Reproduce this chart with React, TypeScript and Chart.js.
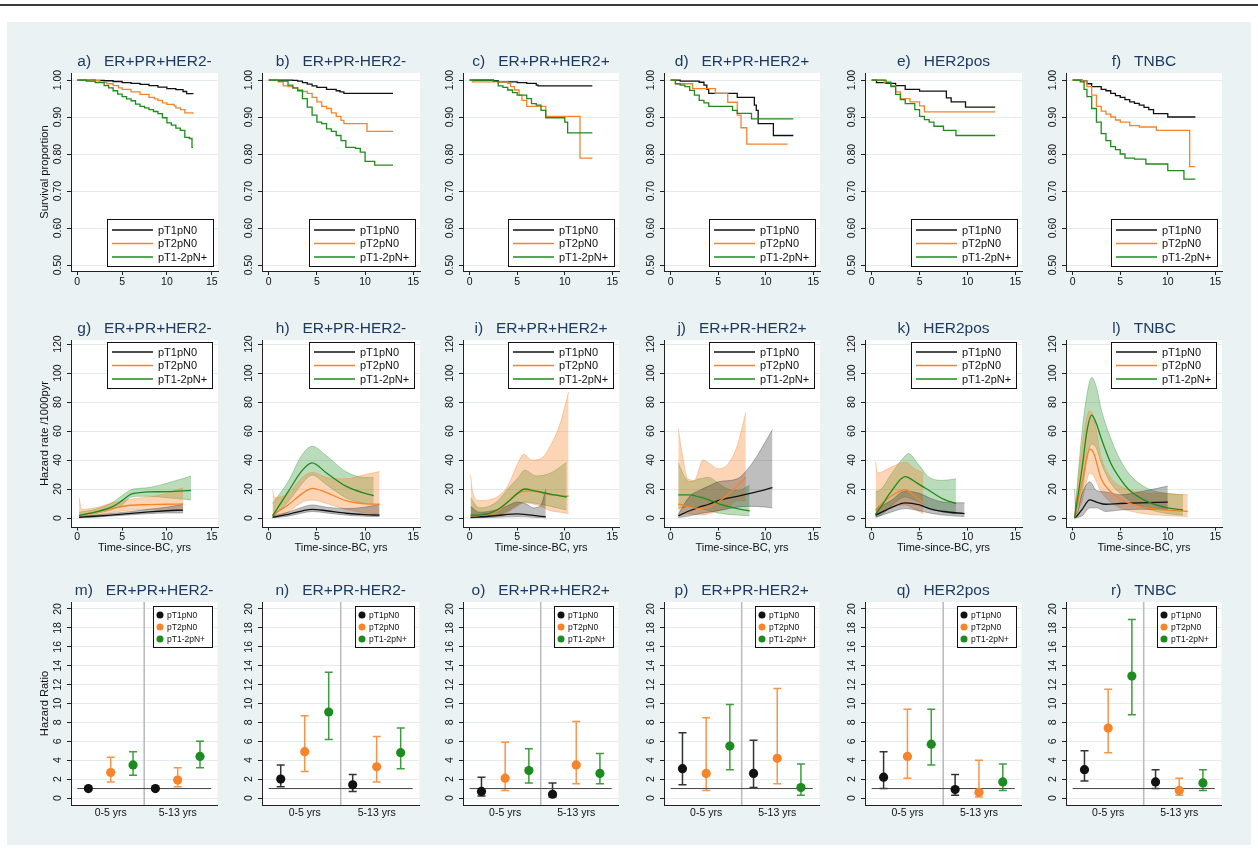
import React, { useEffect, useRef } from 'react';
import { Chart, registerables } from 'chart.js';

Chart.register(...registerables);

const FONT = "'Liberation Sans', Arial, Helvetica, sans-serif";
const INK = '#111111';
const TITLE_INK = '#1F3A62';
const BG = '#EAF2F3';
const GRID = '#E3EBED';

const SERIES = ['pT1pN0', 'pT2pN0', 'pT1-2pN+'];
const LINE_COLORS = ['#111111', '#F5842B', '#1D8B1D'];
const BAND_FILL = ['rgba(40,40,40,0.30)', 'rgba(245,132,43,0.34)', 'rgba(29,139,29,0.30)'];
const BAND_EDGE = ['rgba(40,40,40,0.45)', 'rgba(245,132,43,0.5)', 'rgba(29,139,29,0.45)'];

const SUBTYPES = ['ER+PR+HER2-', 'ER+PR-HER2-', 'ER+PR+HER2+', 'ER+PR-HER2+', 'HER2pos', 'TNBC'];
const KM_LETTERS = ['a', 'b', 'c', 'd', 'e', 'f'];
const HZ_LETTERS = ['g', 'h', 'i', 'j', 'k', 'l'];
const HR_LETTERS = ['m', 'n', 'o', 'p', 'q', 'r'];

const TIME_TICKS = [0, 5, 10, 15];
const KM_Y_TICKS = [0.5, 0.6, 0.7, 0.8, 0.9, 1.0];
const HZ_Y_TICKS = [0, 20, 40, 60, 80, 100, 120];
const HR_Y_TICKS = [0, 2, 4, 6, 8, 10, 12, 14, 16, 18, 20];
const HR_PERIODS = ['0-5 yrs', '5-13 yrs'];
const HR_PERIOD_POS = [2, 5];
const HR_POS = [[1, 4], [2, 5], [3, 6]];
const HR_DIVIDER = 3.5;
const HR_REF = [[0.5, 1], [6.5, 1]];

// ---------- Kaplan-Meier survival [time, survival] ----------
const KM_A1 = [[0,1],[2,0.999],[3,0.998],[4,0.996],[5,0.993],[6,0.991],[7,0.988],[8,0.985],[9,0.981],[10,0.977],[11,0.974],[11.8,0.969],[12.2,0.963],[12.9,0.962]];
const KM_A2 = [[0,1],[1.5,0.998],[2.5,0.994],[3.3,0.99],[4,0.985],[4.6,0.979],[5,0.975],[6,0.968],[7,0.961],[8,0.953],[8.6,0.949],[9,0.945],[9.5,0.938],[10,0.934],[10.8,0.93],[11,0.925],[11.5,0.92],[12,0.911],[12.9,0.909]];
const KM_A3 = [[0,1],[1,0.997],[2,0.993],[3,0.985],[3.5,0.979],[4,0.971],[4.5,0.962],[5,0.955],[5.5,0.949],[6,0.944],[6.5,0.935],[7,0.929],[7.5,0.925],[8,0.92],[8.5,0.915],[9,0.909],[9.5,0.898],[10,0.884],[10.5,0.878],[11,0.87],[11.5,0.864],[12,0.845],[12.5,0.842],[12.8,0.818],[12.9,0.818]];

const KM_B1 = [[0,1],[2.5,0.999],[3,0.997],[3.5,0.993],[4,0.989],[4.5,0.984],[5,0.98],[6,0.975],[7,0.971],[7.4,0.968],[7.8,0.964],[12.9,0.964]];
const KM_B2 = [[0,1],[1,0.995],[1.5,0.984],[2,0.982],[2.5,0.978],[3,0.973],[3.5,0.969],[4,0.964],[4.5,0.953],[5,0.941],[5.5,0.929],[6,0.923],[6.5,0.911],[7,0.902],[7.5,0.891],[7.8,0.882],[10.2,0.861],[12.9,0.861]];
const KM_B3 = [[0,1],[1,0.997],[2,0.986],[2.5,0.979],[3,0.971],[3.5,0.95],[4,0.927],[4.5,0.905],[5,0.886],[5.5,0.882],[6,0.868],[6.5,0.861],[7,0.85],[7.5,0.836],[8,0.818],[9,0.815],[9.5,0.805],[10,0.78],[11,0.77],[12.9,0.77]];

const KM_C1 = [[0,1],[2.5,0.998],[3,0.995],[5,0.993],[6,0.991],[7,0.986],[7.2,0.984],[12.9,0.984]];
const KM_C2 = [[0,1],[0.3,0.995],[4,0.991],[4.3,0.982],[4.7,0.973],[5.2,0.959],[5.5,0.945],[6,0.929],[8,0.902],[11.6,0.789],[12.9,0.789]];
const KM_C3 = [[0,1],[2.5,0.997],[3,0.984],[3.5,0.98],[4,0.973],[4.5,0.966],[5,0.959],[6,0.95],[6.5,0.936],[7,0.932],[7.5,0.918],[8,0.898],[10,0.886],[10.3,0.857],[12.9,0.857]];

const KM_D1 = [[0,1],[1,0.997],[3,0.994],[3.5,0.986],[3.8,0.975],[4,0.964],[7,0.953],[8.8,0.932],[9,0.918],[9.2,0.882],[10.8,0.85],[12.9,0.85]];
const KM_D2 = [[0,1],[0.5,0.99],[2.3,0.977],[4.7,0.964],[6,0.94],[7,0.905],[7.4,0.871],[8,0.827],[12.3,0.827]];
const KM_D3 = [[0,1],[0.5,0.99],[1,0.986],[1.5,0.982],[2,0.972],[2.5,0.959],[3,0.945],[3.5,0.938],[4,0.929],[6.5,0.918],[7,0.91],[8.5,0.895],[12.9,0.895]];

const KM_E1 = [[0,1],[0.5,0.993],[1.5,0.991],[2.5,0.985],[3.5,0.975],[5,0.97],[7.8,0.952],[8.3,0.941],[9.8,0.927],[12.9,0.927]];
const KM_E2 = [[0,1],[1.3,0.993],[2,0.985],[2.5,0.968],[3,0.95],[4,0.941],[5,0.93],[5.5,0.914],[12.9,0.914]];
const KM_E3 = [[0,1],[1.5,0.994],[2,0.982],[2.5,0.961],[3,0.947],[3.5,0.936],[4.5,0.92],[5,0.902],[5.5,0.893],[6,0.886],[6.5,0.875],[7.5,0.864],[8.8,0.85],[12.9,0.85]];

const KM_F1 = [[0,1],[1,0.997],[1.5,0.99],[2,0.982],[3,0.975],[3.5,0.971],[4,0.964],[4.5,0.958],[5,0.953],[5.5,0.947],[6,0.941],[6.5,0.937],[7,0.932],[7.5,0.926],[8,0.92],[8.5,0.909],[10,0.9],[12.9,0.9]];
const KM_F2 = [[0,1],[1,0.996],[1.5,0.982],[2,0.959],[2.5,0.929],[3,0.916],[3.5,0.908],[4,0.9],[4.5,0.892],[5,0.886],[6,0.877],[7,0.873],[8.8,0.864],[12.3,0.766],[12.9,0.766]];
const KM_F3 = [[0,1],[0.8,0.995],[1.2,0.975],[1.5,0.955],[2,0.923],[2.5,0.886],[3,0.855],[3.5,0.836],[4,0.82],[4.5,0.812],[5,0.8],[5.5,0.789],[6.5,0.786],[7.7,0.773],[10,0.755],[11.7,0.732],[12.9,0.732]];

const KM_SETS = [
  [KM_A1, KM_A2, KM_A3], [KM_B1, KM_B2, KM_B3], [KM_C1, KM_C2, KM_C3],
  [KM_D1, KM_D2, KM_D3], [KM_E1, KM_E2, KM_E3], [KM_F1, KM_F2, KM_F3],
];

// ---------- Hazard rate /1000pyr [time, estimate, lower, upper] ----------
const HZ_G1 = [[0.2,0.5,0.2,1],[2,1.2,0.6,2],[4,2.2,1.4,3.3],[6,3.2,2.3,4.5],[8,4.2,3,6],[10,5,3.5,7.5],[11.8,5.5,3.5,9.5]];
const HZ_G2 = [[0.2,1.5,0.5,14],[0.5,2.2,0.8,6],[2,4,2,7],[4,6.7,4,10.5],[6,8.8,5.5,13],[8,9.2,6,14.5],[10,9.5,6,17],[11.8,9.7,5.5,21]];
const HZ_G3 = [[0.2,1.8,1,4],[2,4,3,6],[4,8,6,11],[5,12,9,15.5],[6,16.5,14.5,19.5],[7,17.5,15,20.5],[8,18,15,21],[10,18.2,14,24],[12.7,19,12.5,29]];

const HZ_H1 = [[0.4,0.5,0.2,1.5],[2,2.5,1.3,4],[3.5,5,3.5,7.5],[4.5,6,4.5,9],[6,5,3.5,7.5],[8,3.3,2,6.5],[10,2.3,1.2,7.5],[11.5,2,1,9.5]];
const HZ_H2 = [[0.4,2,0.2,19],[0.6,3,0.5,14],[2,9,4,17],[3.5,17,11,28],[4.5,20.5,12.5,31.5],[6,17.5,10,28],[8,12,6,27],[10,9.8,3.5,30],[11.5,9.5,2.5,32]];
const HZ_H3 = [[0.4,1.5,0.5,10],[2,18,11,25],[3.5,33,24,44],[4.5,38,29.5,49.5],[6,31,23,43],[8,22,14,32],[10,17,10,28],[10.9,15.5,9.5,28]];

const HZ_I1 = [[0.1,0.5,0,8],[1,0.8,0.2,4],[2,1.2,0.4,4.5],[3,1.8,0.6,6],[4,2.5,0.8,8.5],[5,2.8,1,11],[6,2.3,0.8,9.5],[6.7,1.8,0.5,7],[7.5,1.2,0.3,9],[8,0.8,0.2,20]];
const HZ_I2 = [[0.1,1.5,0.1,30],[0.3,1.5,0.2,18],[1,1.8,0.3,12],[2,2.5,0.5,12.5],[3,5,1,15],[4,11,4,22],[5,16.5,8,37],[5.7,18.5,10.5,44],[6.5,18.5,10,40],[7.5,17.5,8,41],[8.5,16,5,50],[9.5,15.5,4,65],[10.4,15,3,87]];
const HZ_I3 = [[0.1,2,0.2,14],[1,2.2,0.5,7],[2,3,1,8],[3,6,2,12],[4,11,5,20],[5,17,9,27],[5.8,20,11,33],[7,18.5,10,29],[8.5,16.5,8,31],[10.2,14.5,5.5,38.5]];

const HZ_J1 = [[0.8,1.5,0.3,2.5],[2,5,1.5,15],[3,7.5,3,19],[4,9.5,4,22],[5,12,5,25],[7,15,7.5,27],[8,16.5,8,33],[9,18,8,42],[10.7,21,7,61]];
const HZ_J2 = [[0.8,9.5,2,62],[1.2,9,2.5,45],[1.8,8,3,27],[2.5,7,2.5,26],[3.4,6.5,2,40],[4,7.5,3,38],[5,11,5,34],[6,16,7,37],[7,22,12,50],[7.9,28,12,73]];
const HZ_J3 = [[0.8,16,6.5,38],[1.5,16,7.5,28],[2,16,8,25],[3,14.5,7,27],[4,12.5,5,28],[5,10,3.5,24],[6,8,2.5,20],[7,6.5,2,19],[8.3,5,1.5,22.5]];

const HZ_K1 = [[0.4,2,0.5,6],[2,7,4,12],[3.5,10.5,6.5,18.5],[5,9,5,17],[6,6.5,3.5,14],[7.5,4.5,2,11],[9.7,3,1,10.5]];
const HZ_K2 = [[0.4,5.5,1,39],[0.6,7,2,31],[2,15,7,35],[3.5,19.5,9,38.5],[4.5,15,6,34],[5.4,10,3,31]];
const HZ_K3 = [[0.4,2.5,0.5,18],[1,8,2,20],[2,18,8,30],[3.5,28.5,14.5,43],[3.8,28,14,44.5],[5,23,11,36],[6,19,7,28],[7.5,13,4,26],[8.8,10,3,27]];

const HZ_L1 = [[0.2,0,0,20],[0.4,1,0.2,3],[1,6,1.5,17],[1.8,12.5,7,25],[2.5,11,7,19],[3.5,9.5,4.5,18],[5,10,5.5,16],[7,10.5,6,18],[10,11,6,22]];
const HZ_L2 = [[0.2,0,0,1],[1,25,12,50],[1.8,47.5,31,74],[2.2,45,29,70],[3,27,18,42],[4,18,11,28],[5,13,7,22],[7,8,3.5,18],[9,6,2,17],[12.1,4.5,1,16]];
const HZ_L3 = [[0.2,0,0,1],[1,35,18,60],[1.5,60,40,85],[2,71,51,97],[2.5,65,48,90],[3,55,38,75],[4,38,24,55],[5,27,17,40],[6,19,12,30],[8,11,6,20],[10,7,3,17],[11.6,5.5,2,16]];

const HZ_SETS = [
  [HZ_G1, HZ_G2, HZ_G3], [HZ_H1, HZ_H2, HZ_H3], [HZ_I1, HZ_I2, HZ_I3],
  [HZ_J1, HZ_J2, HZ_J3], [HZ_K1, HZ_K2, HZ_K3], [HZ_L1, HZ_L2, HZ_L3],
];

// ---------- Hazard ratios: per series [0-5 yrs, 5-13 yrs] ----------
const HR_M_EST = [[1, 1], [2.7, 1.9], [3.5, 4.4]];
const HR_M_LO = [[null, null], [1.7, 1.2], [2.4, 3.2]];
const HR_M_HI = [[null, null], [4.3, 3.2], [4.9, 6.0]];

const HR_N_EST = [[2.0, 1.4], [4.9, 3.3], [9.1, 4.8]];
const HR_N_LO = [[1.2, 0.7], [2.8, 1.7], [6.2, 3.1]];
const HR_N_HI = [[3.5, 2.5], [8.7, 6.5], [13.3, 7.4]];

const HR_O_EST = [[0.7, 0.4], [2.1, 3.5], [2.9, 2.6]];
const HR_O_LO = [[0.2, 0.1], [0.8, 1.5], [1.6, 1.5]];
const HR_O_HI = [[2.2, 1.6], [5.9, 8.1], [5.2, 4.7]];

const HR_P_EST = [[3.1, 2.6], [2.6, 4.2], [5.5, 1.1]];
const HR_P_LO = [[1.4, 1.1], [0.8, 1.5], [3.0, 0.3]];
const HR_P_HI = [[6.9, 6.1], [8.5, 11.6], [9.9, 3.6]];

const HR_Q_EST = [[2.2, 0.9], [4.4, 0.6], [5.7, 1.7]];
const HR_Q_LO = [[1.0, 0.3], [2.1, 0.1], [3.5, 0.8]];
const HR_Q_HI = [[4.9, 2.5], [9.4, 4.0], [9.4, 3.6]];

const HR_R_EST = [[3.0, 1.7], [7.4, 0.8], [12.9, 1.6]];
const HR_R_LO = [[1.8, 1.0], [4.8, 0.3], [8.8, 0.8]];
const HR_R_HI = [[5.0, 3.0], [11.5, 2.1], [18.9, 3.0]];

const HR_SETS = [
  [HR_M_EST, HR_M_LO, HR_M_HI], [HR_N_EST, HR_N_LO, HR_N_HI], [HR_O_EST, HR_O_LO, HR_O_HI],
  [HR_P_EST, HR_P_LO, HR_P_HI], [HR_Q_EST, HR_Q_LO, HR_Q_HI], [HR_R_EST, HR_R_LO, HR_R_HI],
];

const Y_TITLES = ['Survival proportion', 'Hazard rate /1000pyr', 'Hazard Ratio'];
const X_TITLE_HZ = 'Time-since-BC, yrs';

// ---------- layout (pixel frame of each plot region) ----------
const COL_L = [71, 262, 463, 664, 865, 1066];
const COL_R = [218, 420, 619, 820, 1022, 1222];
const ROW_T = [73, 340, 602];
const ROW_B = [271, 527, 805];

function xAxis(g: any, min: number, max: number, ticks: number[], fmt: (v: number) => string, drawTicks: boolean, tl: number, pad: number) {
  return {
    type: 'linear', position: 'bottom', min, max,
    afterBuildTicks: (s: any) => { s.ticks = ticks.map((v) => ({ value: v })); },
    afterFit: (s: any) => { s.height = g.B; s.paddingLeft = 0; s.paddingRight = 0; },
    grid: { drawOnChartArea: false, drawTicks, tickLength: tl, tickColor: '#222', tickWidth: 1 },
    border: { display: true, color: '#222', width: 1 },
    ticks: {
      display: true, autoSkip: false, maxRotation: 0, minRotation: 0, padding: pad,
      color: INK, font: { family: FONT, size: 10.5 },
      callback: (v: any) => fmt(Number(v)),
    },
  };
}

function yAxis(min: number, max: number, ticks: number[]) {
  return {
    type: 'linear', position: 'left', min, max,
    afterBuildTicks: (s: any) => { s.ticks = ticks.map((v) => ({ value: v })); },
    afterFit: (s: any) => { s.width = 0; s.paddingTop = 0; s.paddingBottom = 0; },
    grid: { drawOnChartArea: true, color: GRID, lineWidth: 1, drawTicks: true, tickLength: 4, tickColor: '#222', tickWidth: 1 },
    border: { display: true, color: '#222', width: 1 },
    ticks: { display: false },
  };
}

function drawLegend(ctx: CanvasRenderingContext2D, a: any, kind: string) {
  let bw, bh, bx, by, rows, fs;
  if (kind === 'km') { bw = 107; bh = 48; bx = a.right - 4.5 - bw; by = a.bottom - 4 - bh; rows = [11, 24.5, 38]; fs = 11; }
  else if (kind === 'hz') { bw = 106; bh = 47; bx = a.right - 5 - bw; by = a.top + 2; rows = [10, 23.5, 37]; fs = 11; }
  else { bw = 60; bh = 42; bx = a.right - 4 - bw; by = a.top + 4; rows = [9, 21, 33]; fs = 8.5; }
  bx = Math.round(bx); by = Math.round(by);
  ctx.save();
  ctx.fillStyle = '#ffffff';
  ctx.fillRect(bx, by, bw, bh);
  ctx.strokeStyle = '#111';
  ctx.lineWidth = 1;
  ctx.strokeRect(bx + 0.5, by + 0.5, bw - 1, bh - 1);
  ctx.font = `${fs}px ${FONT}`;
  ctx.textBaseline = 'middle';
  ctx.textAlign = 'left';
  SERIES.forEach((name, i) => {
    const y = by + rows[i];
    if (kind === 'hr') {
      ctx.fillStyle = LINE_COLORS[i];
      ctx.beginPath(); ctx.arc(bx + 7, y, 3.5, 0, Math.PI * 2); ctx.fill();
      ctx.fillStyle = INK;
      ctx.fillText(name, bx + 14, y + 0.5);
    } else {
      ctx.strokeStyle = LINE_COLORS[i];
      ctx.lineWidth = 1.3;
      ctx.beginPath(); ctx.moveTo(bx + 5, y); ctx.lineTo(bx + 46, y); ctx.stroke();
      ctx.fillStyle = INK;
      ctx.fillText(name, bx + 51, y + 0.5);
    }
  });
  ctx.restore();
}

function decor(o: any) {
  return {
    id: 'decor',
    beforeDraw(chart: any) {
      const { ctx, chartArea: a } = chart;
      ctx.save();
      ctx.fillStyle = '#ffffff';
      ctx.fillRect(a.left, a.top, a.right - a.left, a.bottom - a.top);
      ctx.restore();
    },
    beforeDatasetsDraw(chart: any) {
      if (!o.hr) return;
      const { ctx, chartArea: a, scales } = chart;
      const x = scales.x, y = scales.y;
      ctx.save();
      const dx = x.getPixelForValue(HR_DIVIDER);
      ctx.strokeStyle = '#B9BDBF';
      ctx.lineWidth = 1.6;
      ctx.beginPath(); ctx.moveTo(dx, a.top); ctx.lineTo(dx, a.bottom); ctx.stroke();
      const [, lo, hi] = o.hr;
      for (let s = 0; s < 3; s++) {
        for (let k = 0; k < 2; k++) {
          const l = lo[s][k], h = hi[s][k];
          if (l == null || h == null) continue;
          const px = x.getPixelForValue(HR_POS[s][k]);
          const p1 = y.getPixelForValue(l), p2 = y.getPixelForValue(h);
          ctx.strokeStyle = LINE_COLORS[s];
          ctx.globalAlpha = 0.85;
          ctx.lineWidth = 1.5;
          ctx.beginPath();
          ctx.moveTo(px, p1); ctx.lineTo(px, p2);
          ctx.moveTo(px - 4, p1); ctx.lineTo(px + 4, p1);
          ctx.moveTo(px - 4, p2); ctx.lineTo(px + 4, p2);
          ctx.stroke();
        }
      }
      ctx.restore();
    },
    afterDraw(chart: any) {
      const { ctx, chartArea: a, scales } = chart;
      const ys = scales.y;
      ctx.save();
      // title
      ctx.fillStyle = TITLE_INK;
      ctx.font = `15.5px ${FONT}`;
      ctx.textAlign = 'center';
      ctx.textBaseline = 'middle';
      ctx.fillText(o.title, (a.left + a.right) / 2, a.top - 11);
      // y tick labels (rotated)
      ctx.fillStyle = INK;
      ctx.font = `10.5px ${FONT}`;
      for (const t of ys.ticks) {
        const py = ys.getPixelForValue(t.value);
        ctx.save();
        ctx.translate(a.left - 12.5, py);
        ctx.rotate(-Math.PI / 2);
        ctx.fillText(o.yFmt(t.value), 0, 0);
        ctx.restore();
      }
      // y title
      if (o.yTitle) {
        ctx.font = `11.2px ${FONT}`;
        ctx.save();
        ctx.translate(a.left - 26, (a.top + a.bottom) / 2);
        ctx.rotate(-Math.PI / 2);
        ctx.fillText(o.yTitle, 0, 0);
        ctx.restore();
      }
      // x title
      if (o.xTitle) {
        ctx.font = `11px ${FONT}`;
        ctx.fillText(o.xTitle, (a.left + a.right) / 2, a.bottom + 21);
      }
      ctx.restore();
      drawLegend(ctx, a, o.legend);
    },
  };
}

const pts = (rows: number[][], j: number) => rows.map((r) => ({ x: r[0], y: r[j] }));

function buildConfig(row: number, col: number, g: any) {
  const common: any = {
    animation: false,
    responsive: false,
    events: [],
    layout: { padding: { left: g.L, right: g.R, top: g.T, bottom: 0 } },
    plugins: { legend: { display: false }, tooltip: { enabled: false }, title: { display: false } },
  };
  if (row === 0) {
    const sets = KM_SETS[col];
    return {
      type: 'line',
      data: {
        datasets: sets.map((s, i) => ({
          data: s.map((p) => ({ x: p[0], y: p[1] })),
          stepped: true,
          borderColor: LINE_COLORS[i],
          borderWidth: 1.3,
          pointRadius: 0,
          fill: false,
          order: 2 - i,
        })),
      },
      options: {
        ...common,
        scales: {
          x: xAxis(g, -0.7, 15.7, TIME_TICKS, (v) => String(v), true, 4, 0.5),
          y: yAxis(0.4838, 1.019, KM_Y_TICKS),
        },
      },
      plugins: [decor({ title: `${KM_LETTERS[col]})   ${SUBTYPES[col]}`, yFmt: (v: number) => v.toFixed(2), yTitle: col === 0 ? Y_TITLES[0] : null, legend: 'km' })],
    };
  }
  if (row === 1) {
    const sets = HZ_SETS[col];
    const datasets: any[] = [];
    sets.forEach((s, i) => {
      datasets.push({ data: pts(s, 2), borderColor: BAND_EDGE[i], borderWidth: 0.7, pointRadius: 0, fill: false, tension: 0.4, cubicInterpolationMode: 'monotone', order: 5 });
      datasets.push({ data: pts(s, 3), borderColor: BAND_EDGE[i], backgroundColor: BAND_FILL[i], borderWidth: 0.7, pointRadius: 0, fill: '-1', tension: 0.4, cubicInterpolationMode: 'monotone', order: 5 });
    });
    sets.forEach((s, i) => {
      datasets.push({ data: pts(s, 1), borderColor: LINE_COLORS[i], borderWidth: 1.3, pointRadius: 0, fill: false, tension: 0.4, cubicInterpolationMode: 'monotone', order: 2 - i });
    });
    return {
      type: 'line',
      data: { datasets },
      options: {
        ...common,
        scales: {
          x: xAxis(g, -0.7, 15.7, TIME_TICKS, (v) => String(v), true, 3.5, 0),
          y: yAxis(-6.2, 122.8, HZ_Y_TICKS),
        },
      },
      plugins: [decor({ title: `${HZ_LETTERS[col]})   ${SUBTYPES[col]}`, yFmt: (v: number) => String(v), yTitle: col === 0 ? Y_TITLES[1] : null, xTitle: X_TITLE_HZ, legend: 'hz' })],
    };
  }
  const hr = HR_SETS[col];
  const est = hr[0];
  const datasets: any[] = [
    { type: 'line', data: HR_REF.map((p) => ({ x: p[0], y: p[1] })), showLine: true, borderColor: '#444', borderWidth: 1, pointRadius: 0, fill: false, order: 5 },
  ];
  est.forEach((vals: number[], s: number) => {
    datasets.push({
      data: vals.map((v, k) => ({ x: HR_POS[s][k], y: v })),
      showLine: false,
      pointRadius: 4.6,
      pointBackgroundColor: LINE_COLORS[s],
      pointBorderWidth: 0,
      borderColor: LINE_COLORS[s],
      order: 1,
    });
  });
  return {
    type: 'scatter',
    data: { datasets },
    options: {
      ...common,
      scales: {
        x: xAxis(g, 0.22, 6.78, HR_PERIOD_POS, (v) => HR_PERIODS[HR_PERIOD_POS.indexOf(v)] || '', false, 0, 1.5),
        y: yAxis(-0.74, 20.74, HR_Y_TICKS),
      },
    },
    plugins: [decor({ title: `${HR_LETTERS[col]})   ${SUBTYPES[col]}`, yFmt: (v: number) => String(v), yTitle: col === 0 ? Y_TITLES[2] : null, legend: 'hr', hr })],
  };
}

function Panel({ row, col }: { row: number; col: number }) {
  const ref = useRef<HTMLCanvasElement>(null);
  const L = col === 0 ? 66 : 40;
  const R = 4;
  const T = 30;
  const B = row === 1 ? 32 : 30;
  const pw = COL_R[col] - COL_L[col];
  const ph = ROW_B[row] - ROW_T[row];
  const W = pw + L + R;
  const H = ph + T + B;
  useEffect(() => {
    const chart = new Chart(ref.current as HTMLCanvasElement, buildConfig(row, col, { L, R, T, B }) as any);
    return () => chart.destroy();
  }, [row, col]);
  return (
    <canvas
      ref={ref}
      width={W}
      height={H}
      style={{ position: 'absolute', left: COL_L[col] - L, top: ROW_T[row] - T, width: W, height: H }}
    />
  );
}

export default function App() {
  const panels: any[] = [];
  for (let row = 0; row < 3; row++) {
    for (let col = 0; col < 6; col++) {
      panels.push(<Panel key={`${row}-${col}`} row={row} col={col} />);
    }
  }
  return (
    <div style={{ position: 'absolute', left: 0, top: 0, width: 1258, height: 849, background: '#ffffff', overflow: 'hidden' }}>
      <div style={{ position: 'absolute', left: 0, top: 4, width: 1258, height: 2, background: '#3a3a3a' }} />
      <div style={{ position: 'absolute', left: 7, top: 22, width: 1244, height: 823, background: BG }} />
      {panels}
    </div>
  );
}
